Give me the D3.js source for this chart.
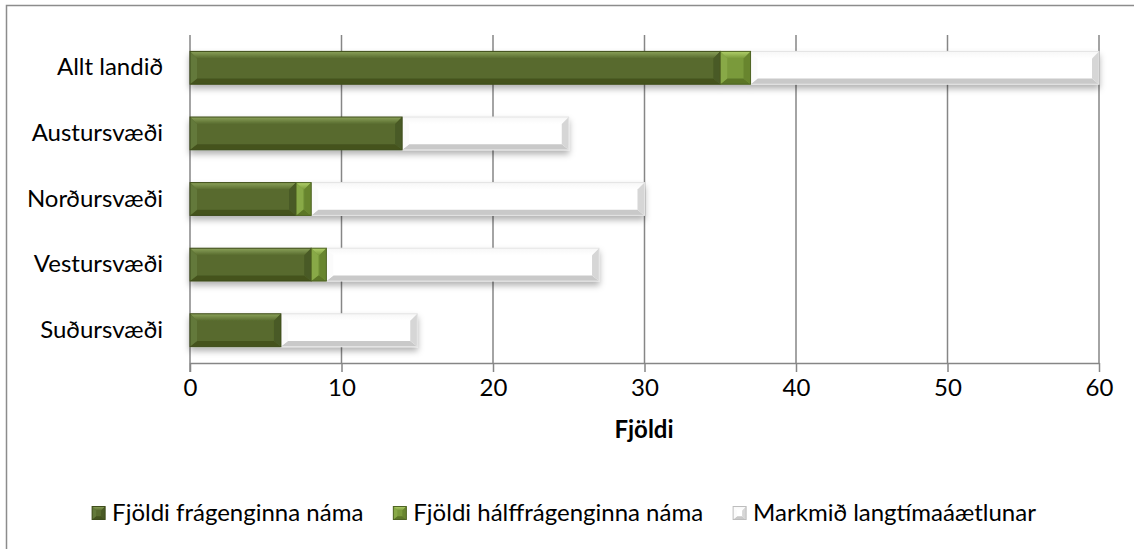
<!DOCTYPE html>
<html>
<head>
<meta charset="utf-8">
<script src="https://cdn.jsdelivr.net/npm/d3@7"></script>
<style>
  body { margin: 0; background: #fff; }
  text { font-family: Lato, "Open Sans", sans-serif; fill: #000; }
</style>
</head>
<body>
<div id="chart"></div>
<script>
// data
var categories = ["Allt landið", "Austursvæði", "Norðursvæði", "Vestursvæði", "Suðursvæði"];
var seriesNames = ["Fjöldi frágenginna náma", "Fjöldi hálffrágenginna náma", "Markmið langtímaáætlunar"];
var fragengin = [35, 14, 7, 8, 6];
var halfFragengin = [2, 0, 1, 1, 0];
var markmid = [23, 11, 22, 18, 9];
var xTicks = [0, 10, 20, 30, 40, 50, 60];

var W = 1134, H = 549;
var fontSize = 24;
var svg = d3.select("#chart").append("svg")
  .attr("width", W).attr("height", H);

// colours for each series: base, top, bottom, left, right, outline
var pal = [
  {base: "#586b2e", top: "#8ba25a", bot: "#44531f", left: "#63793a", right: "#4a5a25", line: "#3f4d1c"},
  {base: "#7a9a3b", top: "#b1d06a", bot: "#5c7628", left: "#88a947", right: "#68852f", line: "#4f6424"},
  {base: "#ffffff", top: "#f7f7f7", bot: "#c9c9c9", left: "#fbfbfb", right: "#d6d6d6", line: "#e3e3e3"}
];

var defs = svg.append("defs");
var shadow = defs.append("filter").attr("id", "shadow")
  .attr("x", "-5%").attr("y", "-30%").attr("width", "110%").attr("height", "170%");
shadow.append("feDropShadow")
  .attr("dx", 0).attr("dy", 4).attr("stdDeviation", 3)
  .attr("flood-color", "#000").attr("flood-opacity", 0.3);

pal.forEach(function(p, i) {
  var g = defs.append("linearGradient").attr("id", "topg" + i)
    .attr("x1", 0).attr("y1", 0).attr("x2", 0).attr("y2", 1);
  g.append("stop").attr("offset", "0%").attr("stop-color", p.top);
  g.append("stop").attr("offset", "100%").attr("stop-color", p.base);
});

// outer frame (continues past the right and bottom edge)
svg.append("path")
  .attr("d", "M6.5," + (H + 5) + "V5.5H" + (W + 5))
  .attr("fill", "none").attr("stroke", "#8c8c8c").attr("stroke-width", 1.5);

var x = d3.scaleLinear().domain([0, 60]).range([190, 1099]);
var y = d3.scaleBand().domain(categories).range([35, 363])
  .paddingInner(0.5).paddingOuter(0.25);

// gridlines
svg.append("g").selectAll("line")
  .data(xTicks.slice(1))
  .enter().append("line")
    .attr("x1", function(d) { return x(d); })
    .attr("x2", function(d) { return x(d); })
    .attr("y1", 35).attr("y2", 363)
    .attr("stroke", "#868686").attr("stroke-width", 1.5);

// x axis
var xAxis = svg.append("g")
  .attr("transform", "translate(0,363)")
  .call(d3.axisBottom(x).tickValues(xTicks).tickSize(9).tickPadding(7).tickSizeOuter(0));
xAxis.select(".domain").attr("stroke", "#868686").attr("stroke-width", 1.5);
xAxis.selectAll(".tick line").attr("stroke", "#868686").attr("stroke-width", 1.5);
xAxis.selectAll("text").attr("font-size", fontSize).attr("font-family", "Lato, 'Open Sans', sans-serif").attr("fill", "#000");

// y axis
var yAxis = svg.append("g")
  .attr("transform", "translate(190,0)")
  .call(d3.axisLeft(y).tickSize(0).tickPadding(27));
yAxis.select(".domain").remove();
svg.append("line").attr("x1", 190).attr("x2", 190).attr("y1", 35).attr("y2", 372)
  .attr("stroke", "#868686").attr("stroke-width", 1.5);
yAxis.selectAll("text").attr("font-size", fontSize).attr("font-family", "Lato, 'Open Sans', sans-serif").attr("fill", "#000");

// stacked bars with a bevel look
var rows = categories.map(function(c, i) {
  return {cat: c, s0: fragengin[i], s1: halfFragengin[i], s2: markmid[i]};
});
var stack = d3.stack().keys(["s0", "s1", "s2"])(rows);

function bevel(g, x0, y0, w, h, p, k, bw) {
  var x1 = x0 + w, y1 = y0 + h;
  var b = Math.min(bw, w / 2, h / 2);
  g.append("rect").attr("x", x0).attr("y", y0).attr("width", w).attr("height", h).attr("fill", p.base);
  g.append("polygon").attr("points", [[x0, y0], [x1, y0], [x1 - b, y0 + b], [x0 + b, y0 + b]].join(" ")).attr("fill", "url(#topg" + k + ")");
  g.append("polygon").attr("points", [[x0, y1], [x1, y1], [x1 - b, y1 - b * 0.8], [x0 + b, y1 - b * 0.8]].join(" ")).attr("fill", p.bot);
  g.append("polygon").attr("points", [[x0, y0], [x0 + b, y0 + b], [x0 + b, y1 - b * 0.8], [x0, y1]].join(" ")).attr("fill", p.left);
  g.append("polygon").attr("points", [[x1, y0], [x1 - b, y0 + b], [x1 - b, y1 - b * 0.8], [x1, y1]].join(" ")).attr("fill", p.right);
  g.append("rect").attr("x", x0).attr("y", y0).attr("width", w).attr("height", h)
    .attr("fill", "none").attr("stroke", p.line).attr("stroke-width", 1);
}

var barG = svg.append("g");
rows.forEach(function(r, i) {
  var g = barG.append("g").attr("filter", "url(#shadow)");
  // draw white part first so the green parts sit on top
  [2, 0, 1].forEach(function(k) {
    var seg = stack[k][i];
    if (seg[1] - seg[0] <= 0) return;
    bevel(g, x(seg[0]), y(r.cat), x(seg[1]) - x(seg[0]), y.bandwidth(), pal[k], k, 7);
  });
});

// axis title
svg.append("text")
  .attr("x", 644).attr("y", 430).attr("dy", "0.35em")
  .attr("text-anchor", "middle")
  .attr("font-size", fontSize).attr("font-weight", "bold")
  .text("Fjöldi");

// legend, laid out from the measured text widths and centred
var mk = 13, gapText = 7, gapItem = 30, legendCX = 564, legendY = 513;
var leg = svg.append("g");
var items = leg.selectAll("g")
  .data(seriesNames)
  .enter().append("g");
items.each(function(d, i) {
  bevel(d3.select(this), 0, -mk / 2, mk, mk, pal[i], i, 4);
});
d3.select(items.nodes()[2]).select("rect:last-child").attr("stroke", "#bdbdbd");
items.append("text")
  .attr("x", mk + gapText).attr("y", 0).attr("dy", "0.35em")
  .attr("font-size", fontSize)
  .text(function(d) { return d; });
var offs = [], cur = 0;
items.each(function() {
  offs.push(cur);
  cur += mk + gapText + d3.select(this).select("text").node().getComputedTextLength() + gapItem;
});
var total = cur - gapItem;
items.attr("transform", function(d, i) {
  return "translate(" + (legendCX - total / 2 + offs[i]) + "," + legendY + ")";
});
</script>
</body>
</html>
